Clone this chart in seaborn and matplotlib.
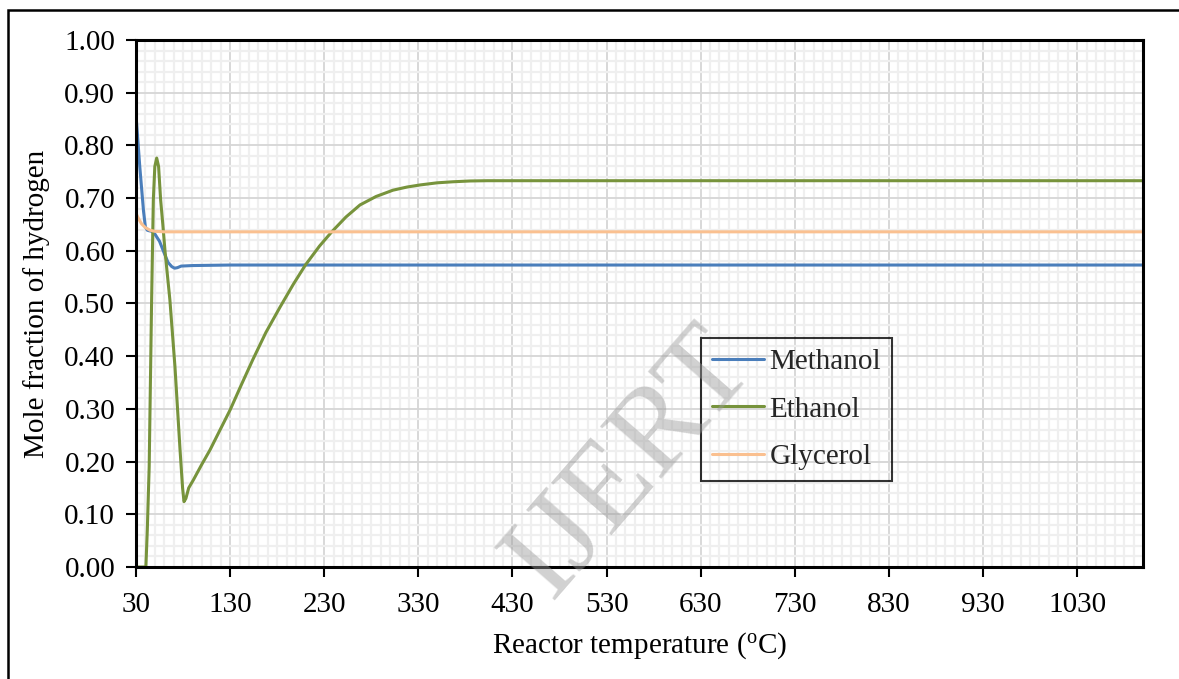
import numpy as np
import pandas as pd
import matplotlib
matplotlib.use("Agg")
import matplotlib.pyplot as plt
from matplotlib.patches import Rectangle
from matplotlib.ticker import MultipleLocator, FormatStrFormatter
import seaborn as sns

# Reactor temperature (°C) and hydrogen mole fraction for each feedstock
methanol_T = [30, 34, 38, 40, 42, 44, 47, 50, 55, 59, 64, 68, 71, 74, 78, 90, 130, 300, 600, 900, 1100]
methanol_y = [0.858, 0.760, 0.675, 0.645, 0.639, 0.638, 0.637, 0.632, 0.618, 0.600, 0.578, 0.570, 0.567, 0.568, 0.571, 0.572, 0.573, 0.573, 0.573, 0.573, 0.573]

ethanol_T = [30, 35, 40.5, 42, 44, 46.6, 48.4, 50, 52, 54, 56.2, 58.5, 60.8, 66, 71.4, 76.8, 79.5, 81, 83, 86, 90.9, 100, 108.6,
             119, 130, 142, 154, 168, 183, 197, 210, 225, 238, 253, 268, 285, 303, 318, 332, 350, 367, 385, 403, 450, 600, 800, 1100]
ethanol_y = [0.0, 0.0, 0.0, 0.07, 0.19, 0.507, 0.696, 0.760, 0.776, 0.760, 0.696, 0.650, 0.600, 0.507, 0.380, 0.222, 0.150, 0.124,
             0.130, 0.150, 0.165, 0.195, 0.222, 0.259, 0.298, 0.346, 0.393, 0.445, 0.493, 0.536, 0.573, 0.609, 0.636, 0.664,
             0.687, 0.703, 0.715, 0.721, 0.725, 0.729, 0.731, 0.7325, 0.733, 0.733, 0.733, 0.733, 0.733]

glycerol_T = [30, 33, 36, 40, 45, 50, 60, 300, 600, 900, 1100]
glycerol_y = [0.671, 0.660, 0.651, 0.644, 0.639, 0.637, 0.636, 0.636, 0.636, 0.636, 0.636]

series_names = ["Methanol", "Ethanol", "Glycerol"]
series_colors = ["#4a7ebb", "#77933c", "#fac090"]
x_ticks = [30, 130, 230, 330, 430, 530, 630, 730, 830, 930, 1030]

frames = []
for name, T, y in zip(series_names, [methanol_T, ethanol_T, glycerol_T], [methanol_y, ethanol_y, glycerol_y]):
    frames.append(pd.DataFrame({"T": T, "H2": y, "feed": name}))
df = pd.concat(frames, ignore_index=True)

sns.set_theme(style="white")
plt.rcParams["font.family"] = ["Liberation Serif", "DejaVu Serif"]
plt.rcParams["mathtext.fontset"] = "stix"
FS = 21

fig = plt.figure(figsize=(11.79, 6.79), dpi=100)
ax = fig.add_axes([136 / 1179, 1 - 567 / 679, (1143 - 136) / 1179, (567 - 40) / 679])

# grid: fine minor mesh under coarser major lines
ax.xaxis.set_minor_locator(MultipleLocator(10))
ax.yaxis.set_minor_locator(MultipleLocator(0.02))
ax.grid(which="minor", color="#efefef", linewidth=1.6, zorder=0)
ax.grid(which="major", color="#d6d6d6", linewidth=1.3, zorder=0)
ax.set_axisbelow(True)

sns.lineplot(data=df, x="T", y="H2", hue="feed", hue_order=series_names,
             palette=dict(zip(series_names, series_colors)), estimator=None,
             sort=False, linewidth=2.2, ax=ax, legend=False)

ax.set_xlim(30, 1100)
ax.set_ylim(0, 1.0)
ax.set_xticks(x_ticks)
ax.yaxis.set_major_locator(MultipleLocator(0.1))
ax.yaxis.set_major_formatter(FormatStrFormatter("%.2f"))
ax.tick_params(axis="both", which="major", direction="out", length=7, width=1.5,
               color="black", labelsize=FS, labelcolor="black", bottom=True, left=True)
ax.tick_params(axis="x", which="major", pad=11)
ax.tick_params(axis="y", which="major", pad=8)
ax.tick_params(axis="both", which="minor", length=0)

for s in ax.spines.values():
    s.set_color("black")
    s.set_linewidth(2.2)
    s.set_visible(True)

ax.set_xlabel("Reactor temperature ($\\mathregular{^{o}}$C)", fontsize=FS, color="black", labelpad=9)
ax.set_ylabel("Mole fraction of hydrogen", fontsize=FS, color="black", labelpad=10)

# legend with transparent box
handles = [plt.Line2D([], [], color=c, linewidth=2.2) for c in series_colors]
leg = ax.legend(handles, series_names, loc="lower left", bbox_to_anchor=(0.561, 0.163),
                fontsize=FS, frameon=True, fancybox=False, handlelength=1.78,
                handletextpad=0.2, labelspacing=0.73, borderpad=0.37, borderaxespad=0)
leg.get_frame().set_edgecolor("black")
leg.get_frame().set_linewidth(1.5)
leg.get_frame().set_facecolor("none")

# watermark
fig.text(0.535, 0.318, "IJERT", fontsize=88, rotation=49, color="#9a9a9a", alpha=0.45,
         ha="center", va="center", zorder=10)

# outer frame
fig.patches.append(Rectangle((8 / 1179, -0.05), 1.2, 1 - 10 / 679 + 0.05, transform=fig.transFigure,
                             fill=False, edgecolor="black", linewidth=1.8))

fig.savefig("out.png", dpi=100)
